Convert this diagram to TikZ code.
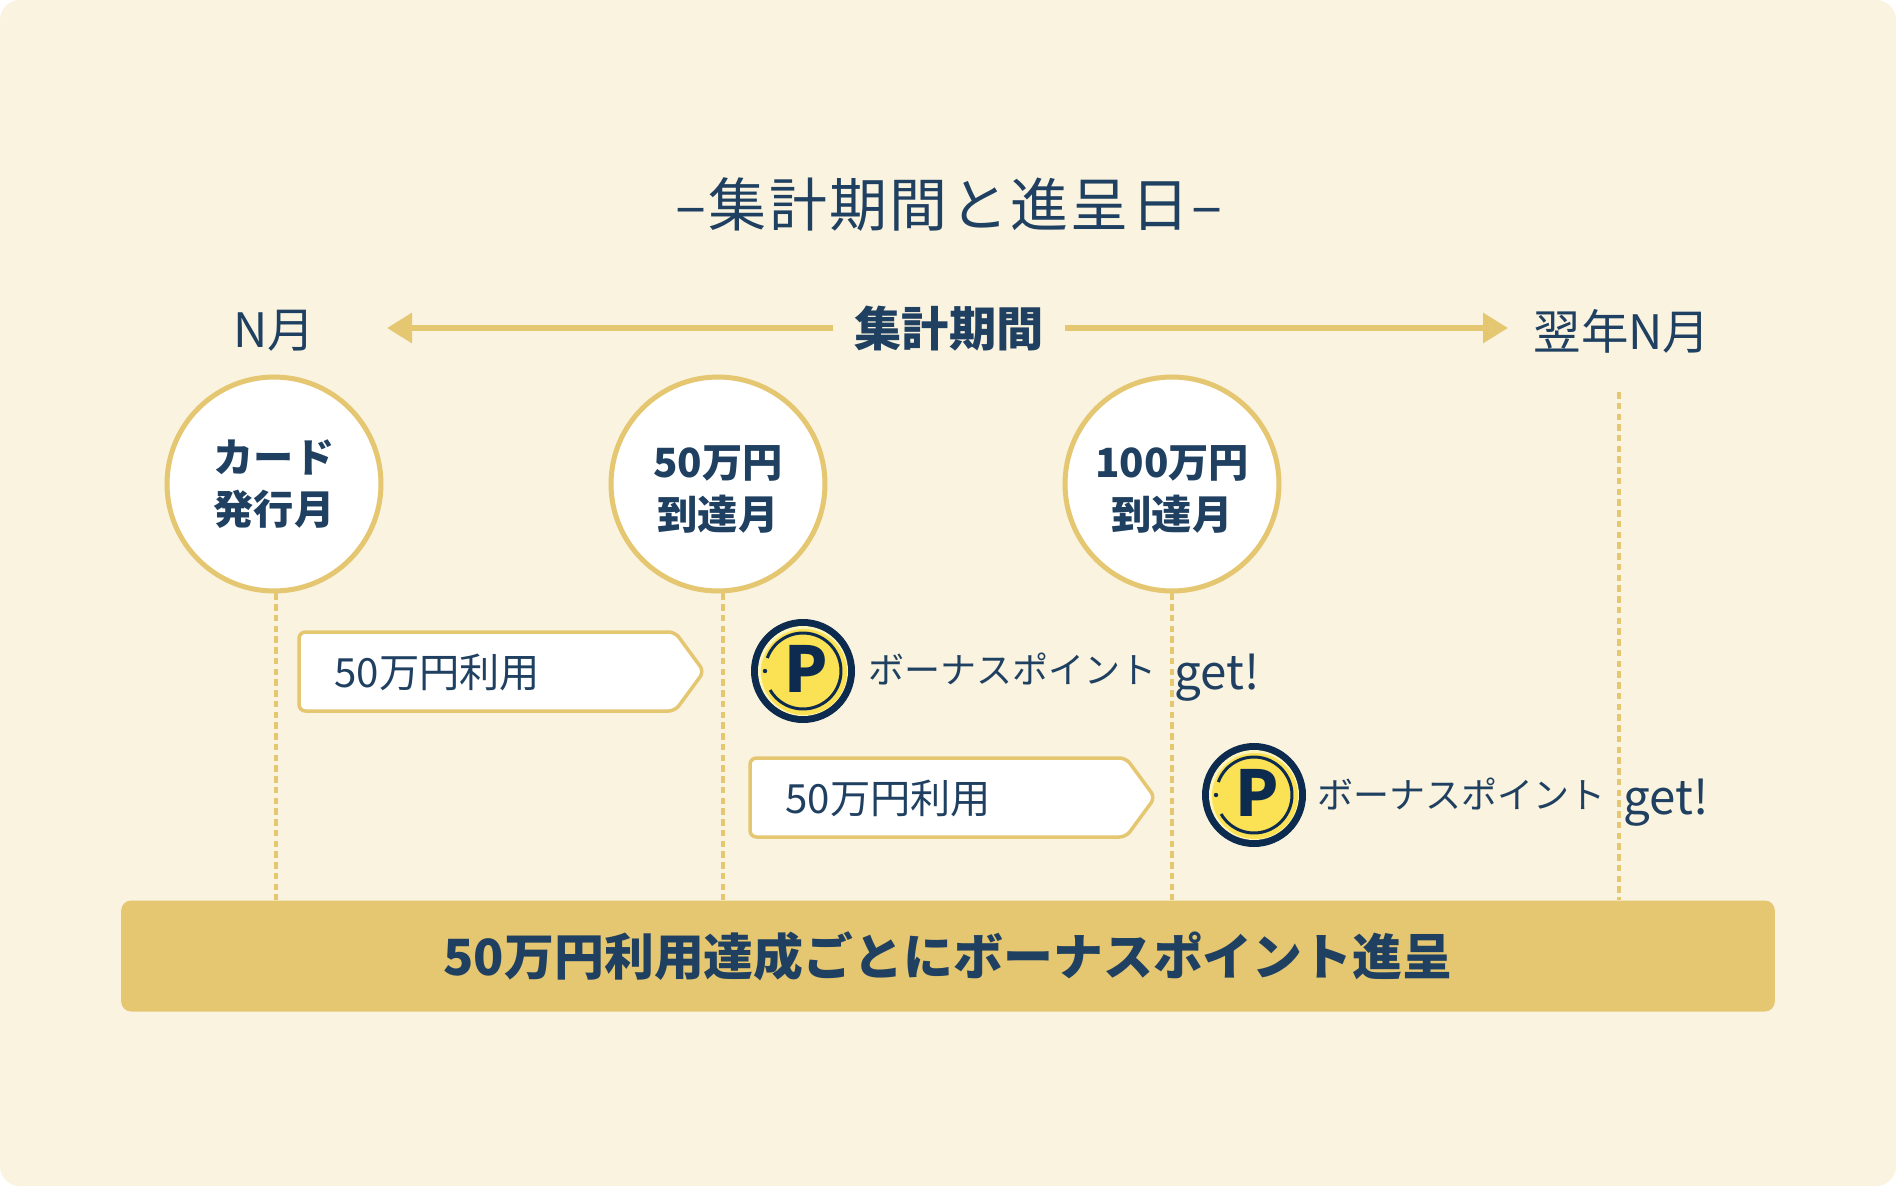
\documentclass[tikz,border=0pt]{standalone}
\usepackage{fontspec}
\setmainfont{Noto Sans CJK JP}
\usetikzlibrary{arrows.meta}

\definecolor{paper}{HTML}{F9F3E0}
\definecolor{gold}{HTML}{E5C671}
\definecolor{ink}{HTML}{1F4060}
\definecolor{coinink}{HTML}{0C2B4E}
\definecolor{coinfill}{HTML}{FBE254}

\begin{document}
\begin{tikzpicture}[x=0.02cm,y=-0.02cm,text=ink,
  month node/.style={circle,fill=white,draw=gold,line width=0.1cm,minimum size=4.28cm,inner sep=0pt,
    align=center,font=\fontsize{22.9}{29.5}\selectfont\bfseries},
  head node/.style={font=\fontsize{27}{32}\selectfont,inner sep=0pt},
  use label/.style={font=\fontsize{22.9}{28}\selectfont,inner sep=0pt},
  get label/.style={font=\fontsize{20.5}{26}\selectfont,inner sep=0pt,anchor=west},
  use box/.style={fill=white,draw=gold,line width=0.07cm,rounded corners=0.13cm},
  span line/.style={draw=gold,line width=0.12cm,-{Triangle[length=0.5cm,width=0.58cm]}},
  dot line/.style={draw=gold,line width=0.07cm,dash pattern=on 0.13cm off 0.085cm},
  coin/.pic={
    \fill[coinink] (0,0) circle (52);
    \fill[white!60!coinfill] (0,0) circle (45);
    \fill[coinfill] (1,1) circle (43);
    \draw[coinink,line width=0.06cm] (200:38) arc[start angle=200,end angle=510,radius=38];
    \fill[coinink] (-38,0) circle (2.2);
    \node[inner sep=0pt,text=coinink,font=\fontsize{36}{40}\selectfont\bfseries] (-p) at (3,-2) {P};
  }]

  \useasboundingbox (0,0) rectangle (1896,1186);
  \fill[white] (0,0) rectangle (1896,1186);
  \fill[paper,rounded corners=0.4cm] (0,0) rectangle (1896,1186);

  \node[inner sep=0pt,font=\fontsize{33}{40}\selectfont\addfontfeature{LetterSpace=4}] (title) at (949,205) {–集計期間と進呈日–};

  \node[head node] (start) at (274,331) {N月};
  \node[head node] (end) at (1622,331) {翌年N月};
  \node[inner sep=0.42cm,font=\fontsize{26.9}{32}\selectfont\bfseries] (span) at (949,329) {集計期間};
  \coordinate (left) at (387,328);
  \coordinate (right) at (1508,328);
  \draw[span line] (span.west |- left) -- (left);
  \draw[span line] (span.east |- right) -- (right);

  \node[fill=gold,minimum width=33.08cm,minimum height=2.22cm,rounded corners=0.2cm,inner sep=0pt,
    font=\fontsize{28.4}{34}\selectfont\bfseries] (bar) at (948,956) {50万円利用達成ごとにボーナスポイント進呈};

  \coordinate (b1) at (276,900);
  \coordinate (b2) at (723,900);
  \coordinate (b3) at (1172,900);
  \coordinate (b4) at (1619,900);
  \coordinate (t4) at (1619,392);

  \node[month node] (1) at (274,484) {カード\\発行月};
  \node[month node] (2) at (718,484) {\rule{0pt}{24pt}50万円\\到達月};
  \node[month node] (3) at (1172,484) {\rule{0pt}{24pt}100万円\\到達月};

  \draw[dot line] (b1 |- 1.south) -- (b1);
  \draw[dot line] (b2 |- 2.south) -- (b2);
  \draw[dot line] (b3 |- 3.south) -- (b3);
  \draw[dot line] (t4) -- (b4);

  \foreach \i/\x/\y in {1/299/632,2/750/758} {
    \draw[use box] (\x,\y) -- ++(376,0) -- ++(29,39.5) -- ++(-29,39.5) -- ++(-376,0) -- cycle;
    \node[use label,anchor=west] (use\i) at (\x+35,\y+40) {50万円利用};
  }

  \pic (coin1) at (803,671) {coin};
  \pic (coin2) at (1254,795) {coin};

  \node[get label] (get1) at (868,677) {ボーナスポイント\hspace{0.5em}\raisebox{-3pt}{\fontsize{27}{30}\selectfont get!}};
  \node[get label] (get2) at (1317,802) {ボーナスポイント\hspace{0.5em}\raisebox{-3pt}{\fontsize{27}{30}\selectfont get!}};

\end{tikzpicture}
\end{document}
